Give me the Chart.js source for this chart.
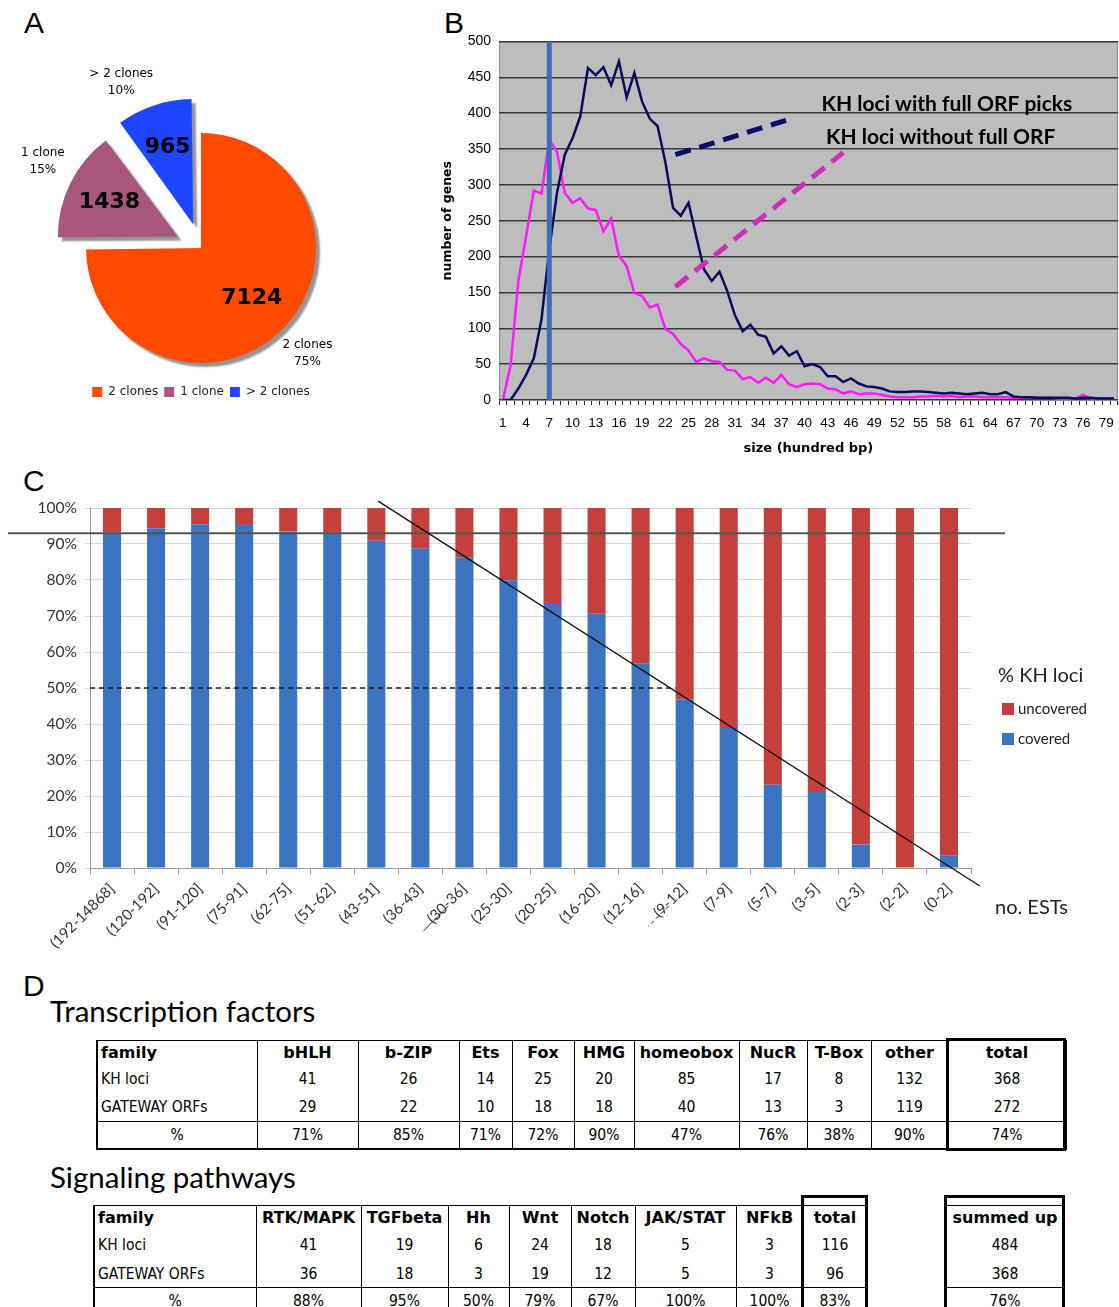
<!DOCTYPE html>
<html>
<head>
<meta charset="utf-8">
<script src="https://cdn.jsdelivr.net/npm/chart.js@4.4.1/dist/chart.umd.min.js"></script>
<style>
  body { margin: 0; background: #fff; }
  #page { position: relative; width: 1119px; height: 1307px; overflow: hidden; background: #fff; }
  canvas { position: absolute; }
  .letter { position: absolute; font-family: 'Liberation Sans', Arial, sans-serif; font-size: 30px; line-height: 1; color: #000; }
  .title { position: absolute; font-family: Lato, sans-serif; font-size: 29.5px; line-height: 1; color: #000; }
  table.d { position: absolute; border-collapse: collapse; table-layout: fixed;
    font-family: 'DejaVu Sans Condensed', 'DejaVu Sans', sans-serif; font-size: 15.5px; color: #000; }
  table.d td { padding: 0 3px; border-left: 1px solid #000; border-right: 1px solid #000;
    text-align: center; white-space: nowrap; overflow: hidden; }
  table.d tr.hd td { font-family: 'DejaVu Sans', sans-serif; font-size: 16px; font-weight: bold; border-top: 1px solid #000; }
  table.d tr.gw td { border-bottom: 1px solid #000; }
  table.d tr.pc td { border-bottom: 2px solid #000; }
  table.d td.first { text-align: left; border-left: 2px solid #000; }
  table.d tr.pc td.first { text-align: center; }
  .box { position: absolute; border: 3px solid #000; box-sizing: border-box; }
</style>
</head>
<body>
<div id="page">
  <div class="letter" style="left:24px;top:8px">A</div>
  <div class="letter" style="left:444px;top:8px">B</div>
  <div class="letter" style="left:23px;top:466px">C</div>
  <div class="letter" style="left:23px;top:971px">D</div>

  <canvas id="pieChart" width="402" height="410" style="left:0;top:0"></canvas>
  <canvas id="sizeChart" width="684" height="435" style="left:440px;top:25px"></canvas>
  <canvas id="estChart" width="1119" height="480" style="left:0;top:490px"></canvas>

  <div class="title" style="left:50px;top:996px">Transcription factors</div>
  <table class="d" id="tfTable" style="left:96px;top:1040px"></table>
  <div class="box" style="left:946px;top:1038px;width:120px;height:113px"></div>

  <div class="title" style="left:50px;top:1162px">Signaling pathways</div>
  <table class="d" id="spTable" style="left:93px;top:1205px"></table>
  <div class="box" style="left:801px;top:1195px;width:67px;height:140px"></div>
  <table class="d" id="sumTable" style="left:946px;top:1205px"></table>
  <div class="box" style="left:944px;top:1195px;width:121px;height:140px"></div>
</div>

<script>
// ---------- A: clones per locus
const cloneLabels = ['2 clones', '1 clone', '> 2 clones'];
const cloneCounts = [7124, 1438, 965];
const cloneColors = ['#FF4A00', '#A8567E', '#1F46FF'];

// ---------- B: size distribution (hundred bp)
const sizeBins = ['1','2','3','4','5','6','7','8','9','10','11','12','13','14','15','16','17','18','19','20',
  '21','22','23','24','25','26','27','28','29','30','31','32','33','34','35','36','37','38','39','40',
  '41','42','43','44','45','46','47','48','49','50','51','52','53','54','55','56','57','58','59','60',
  '61','62','63','64','65','66','67','68','69','70','71','72','73','74','75','76','77','78','79','80'];
const withOrf = [0, 0, 16, 35, 58, 113, 210, 289, 342, 365, 395, 463, 453, 464, 439, 472, 422, 456, 416, 392,
  382, 332, 268, 257, 275, 228, 182, 166, 179, 152, 118, 96, 105, 91, 88, 65, 75, 62, 68, 47,
  50, 46, 33, 33, 25, 30, 23, 19, 18, 16, 12, 11, 11, 12, 12, 11, 10, 9, 10, 9,
  8, 9, 10, 8, 8, 11, 5, 4, 4, 3, 3, 3, 3, 3, 2, 3, 3, 2, 2, 2];
const withoutOrf = [0, 48, 166, 228, 292, 288, 363, 346, 289, 275, 281, 267, 265, 235, 253, 201, 187, 149, 145, 129,
  133, 99, 92, 78, 69, 53, 58, 54, 53, 42, 41, 29, 32, 24, 31, 24, 35, 22, 18, 22,
  23, 22, 16, 15, 9, 12, 8, 9, 9, 7, 5, 4, 4, 4, 5, 5, 6, 5, 6, 4,
  5, 5, 4, 4, 4, 4, 3, 3, 3, 3, 3, 3, 2, 2, 2, 7, 2, 2, 2, 2];
const markerBin = 6; // index of the "7" bin

// ---------- C: coverage per EST class
const estBins = ['(192-14868]', '(120-192]', '(91-120]', '(75-91]', '(62-75]', '(51-62]', '(43-51]', '(36-43]',
  '(30-36]', '(25-30]', '(20-25]', '(16-20]', '(12-16]', '(9-12]', '(7-9]', '(5-7]', '(3-5]', '(2-3]', '(2-2]', '(0-2]'];
const coveredPct = [93.2, 94.4, 95.5, 95.3, 93.5, 93.2, 90.9, 88.8, 86.3, 79.9,
  73.6, 70.6, 56.9, 46.8, 38.9, 23.1, 21.1, 6.5, 0, 3.5];
const uncoveredPct = [6.8, 5.6, 4.5, 4.7, 6.5, 6.8, 9.1, 11.2, 13.7, 20.1,
  26.4, 29.4, 43.1, 53.2, 61.1, 76.9, 78.9, 93.5, 100, 96.5];

// ---------- D: tables
const tfFamilies = ['bHLH', 'b-ZIP', 'Ets', 'Fox', 'HMG', 'homeobox', 'NucR', 'T-Box', 'other'];
const tfKhLoci = [41, 26, 14, 25, 20, 85, 17, 8, 132];
const tfGateway = [29, 22, 10, 18, 18, 40, 13, 3, 119];
const tfPercent = ['71%', '85%', '71%', '72%', '90%', '47%', '76%', '38%', '90%'];
const tfTotal = [368, 272, '74%'];
const spFamilies = ['RTK/MAPK', 'TGFbeta', 'Hh', 'Wnt', 'Notch', 'JAK/STAT', 'NFkB'];
const spKhLoci = [41, 19, 6, 24, 18, 5, 3];
const spGateway = [36, 18, 3, 19, 12, 5, 3];
const spPercent = ['88%', '95%', '50%', '79%', '67%', '100%', '100%'];
const spTotal = [116, 96, '83%'];
const summedUp = [484, 368, '76%'];

Chart.defaults.animation = false;
Chart.defaults.responsive = false;
Chart.defaults.devicePixelRatio = 1;

// ===== A
// angle nudge (radians) for the outside labels, so they sit where the original put them
const cloneLabelNudge = [0, 0.05, -0.16];

const piePlugin = {
  id: 'pieDeco',
  beforeDatasetsDraw(chart) {
    const ctx = chart.ctx;
    ctx.save();
    ctx.shadowColor = 'rgba(60,60,60,0.55)';
    ctx.shadowOffsetX = 4;
    ctx.shadowOffsetY = 4;
    ctx.shadowBlur = 2;
  },
  afterDatasetsDraw(chart) {
    const ctx = chart.ctx;
    ctx.restore();
    const total = cloneCounts.reduce((a, b) => a + b, 0);
    chart.getDatasetMeta(0).data.forEach((arc, i) => {
      const p = arc.getProps(['x', 'y', 'startAngle', 'endAngle', 'outerRadius']);
      const mid = (p.startAngle + p.endAngle) / 2;
      const circ = p.endAngle - p.startAngle;
      const off = (arc.options.offset || 0) / 4;
      const shift = off * (2 - Math.sin(Math.min(Math.PI, circ)));
      const sx = p.x + Math.cos(mid) * shift, sy = p.y + Math.sin(mid) * shift;
      const at = (d, ang) => [sx + Math.cos(ang) * d, sy + Math.sin(ang) * d];
      ctx.save();
      ctx.fillStyle = '#000';
      ctx.textAlign = 'center';
      ctx.textBaseline = 'middle';
      ctx.font = 'bold 22px "DejaVu Sans"';
      const [nx, ny] = at(p.outerRadius * 0.62, mid);
      ctx.fillText(String(cloneCounts[i]), nx, ny);
      ctx.font = '12px "DejaVu Sans"';
      const [ox, oy] = at(p.outerRadius * 1.3, mid + cloneLabelNudge[i]);
      ctx.fillText(cloneLabels[i], ox, oy - 8);
      ctx.fillText(Math.round(cloneCounts[i] / total * 100) + '%', ox, oy + 9);
      ctx.restore();
    });
  }
};

new Chart(document.getElementById('pieChart'), {
  type: 'pie',
  data: {
    labels: cloneLabels,
    datasets: [{
      data: cloneCounts,
      backgroundColor: cloneColors,
      borderWidth: 0,
      offset: [0, 104, 100],
      clip: false
    }]
  },
  options: {
    radius: 115,
    layout: { padding: { top: 116, bottom: 2 } },
    plugins: {
      legend: {
        position: 'bottom',
        labels: { font: { family: 'DejaVu Sans', size: 12 }, color: '#222', boxWidth: 10, boxHeight: 10, padding: 6 }
      },
      tooltip: { enabled: false }
    }
  },
  plugins: [piePlugin]
});

// ===== B
const sizeNotes = {
  withText: { x: 57.4, y: 413, text: 'KH loci with full ORF picks' },
  withoutText: { x: 56.6, y: 367, text: 'KH loci without full ORF' },
  withArrow: [[22.3, 342], [36.6, 390]],
  withoutArrow: [[22.3, 158], [44.0, 345]]
};

const sizePlugin = {
  id: 'sizeDeco',
  beforeDraw(chart) {
    const a = chart.chartArea, ctx = chart.ctx;
    ctx.save();
    ctx.fillStyle = '#BDBDBD';
    ctx.fillRect(a.left, a.top, a.right - a.left, a.bottom - a.top);
    ctx.strokeStyle = '#8a8a8a';
    ctx.lineWidth = 1;
    ctx.strokeRect(a.left + 0.5, a.top + 0.5, a.right - a.left - 1, a.bottom - a.top - 1);
    ctx.restore();
  },
  afterDatasetsDraw(chart) {
    const a = chart.chartArea, ctx = chart.ctx;
    const xs = chart.scales.x, ys = chart.scales.y;
    ctx.save();
    const mx = xs.getPixelForValue(markerBin);
    ctx.strokeStyle = '#3C6EB4';
    ctx.lineWidth = 5;
    ctx.beginPath();
    ctx.moveTo(mx, a.top);
    ctx.lineTo(mx, a.bottom);
    ctx.stroke();

    const dash = (pts, color) => {
      ctx.strokeStyle = color;
      ctx.lineWidth = 5;
      ctx.setLineDash([16, 9]);
      ctx.beginPath();
      ctx.moveTo(xs.getPixelForValue(pts[0][0]), ys.getPixelForValue(pts[0][1]));
      ctx.lineTo(xs.getPixelForValue(pts[1][0]), ys.getPixelForValue(pts[1][1]));
      ctx.stroke();
    };
    dash(sizeNotes.withArrow, '#0B0B6A');
    dash(sizeNotes.withoutArrow, '#D030B8');
    ctx.setLineDash([]);

    ctx.fillStyle = '#000';
    ctx.font = 'bold 21px Lato';
    ctx.textAlign = 'center';
    ctx.textBaseline = 'middle';
    [sizeNotes.withText, sizeNotes.withoutText].forEach(n => {
      ctx.fillText(n.text, xs.getPixelForValue(n.x), ys.getPixelForValue(n.y));
    });
    ctx.restore();
  }
};

new Chart(document.getElementById('sizeChart'), {
  type: 'line',
  data: {
    labels: sizeBins,
    datasets: [
      { label: 'KH loci with full ORF picks', data: withOrf, borderColor: '#0B0B5E', borderWidth: 2.5, pointRadius: 0, tension: 0 },
      { label: 'KH loci without full ORF', data: withoutOrf, borderColor: '#FF1AFF', borderWidth: 2.5, pointRadius: 0, tension: 0 }
    ]
  },
  options: {
    layout: { padding: { top: 14, right: -3, left: 0, bottom: 0 } },
    plugins: { legend: { display: false }, tooltip: { enabled: false } },
    scales: {
      x: {
        offset: true,
        grid: { offset: true, drawOnChartArea: false, tickLength: 5, color: '#222' },
        border: { color: '#8a8a8a' },
        ticks: {
          autoSkip: false, maxRotation: 0, minRotation: 0, padding: 10, color: '#000',
          font: { family: 'Liberation Sans', size: 13.5 },
          callback: (v, i) => (i % 3 === 0 ? sizeBins[i] : '')
        },
        title: { display: true, text: 'size (hundred bp)', color: '#000', font: { family: 'DejaVu Sans', weight: 'bold', size: 13 }, padding: { top: 4, bottom: 4 } },
        afterFit: (s) => { s.height = 60; }
      },
      y: {
        min: 0, max: 500,
        grid: { color: '#3a3a3a', lineWidth: 1.5, drawTicks: false },
        border: { display: false },
        ticks: { stepSize: 50, padding: 8, color: '#000', font: { family: 'Liberation Sans', size: 14 } },
        title: { display: true, text: 'number of genes', color: '#000', font: { family: 'DejaVu Sans', weight: 'bold', size: 12.5 }, padding: 0 },
        afterFit: (s) => { s.width = 59; }
      }
    }
  },
  plugins: [sizePlugin]
});

// ===== C
const estNotes = {
  refLine: 93,
  halfLine: { y: 50, toBin: 12.8 },
  diagonal: [[6.04, 101.9], [19.7, -5]],
  underlined: 8,
  dashUnderlined: 13
};

const estPlugin = {
  id: 'estDeco',
  afterDatasetsDraw(chart) {
    const a = chart.chartArea, ctx = chart.ctx;
    const xs = chart.scales.x, ys = chart.scales.y;
    ctx.save();
    // 93% reference line
    const y93 = ys.getPixelForValue(estNotes.refLine);
    ctx.strokeStyle = '#555';
    ctx.lineWidth = 2;
    ctx.beginPath();
    ctx.moveTo(8, y93);
    ctx.lineTo(a.right + 34, y93);
    ctx.stroke();
    // 50% dashed line
    const y50 = ys.getPixelForValue(estNotes.halfLine.y);
    ctx.strokeStyle = '#1a1a1a';
    ctx.lineWidth = 1.5;
    ctx.setLineDash([5, 4]);
    ctx.beginPath();
    ctx.moveTo(a.left, y50);
    ctx.lineTo(xs.getPixelForValue(estNotes.halfLine.toBin), y50);
    ctx.stroke();
    ctx.setLineDash([]);
    // diagonal
    const d = estNotes.diagonal;
    ctx.strokeStyle = '#111';
    ctx.lineWidth = 1.3;
    ctx.beginPath();
    ctx.moveTo(xs.getPixelForValue(d[0][0]), ys.getPixelForValue(d[0][1]));
    ctx.lineTo(xs.getPixelForValue(d[1][0]), ys.getPixelForValue(d[1][1]));
    ctx.stroke();
    // underlines under two tick labels
    const under = (idx, dashed) => {
      const tx = xs.getPixelForTick(idx);
      ctx.font = '15px Lato';
      const len = ctx.measureText(estBins[idx]).width * 0.72;
      const sx = tx - 16, sy = xs.top + 38;
      ctx.strokeStyle = '#222';
      ctx.lineWidth = 1;
      ctx.setLineDash(dashed ? [4, 3] : []);
      ctx.beginPath();
      ctx.moveTo(sx, sy);
      ctx.lineTo(sx - len * 0.707, sy + len * 0.707);
      ctx.stroke();
      ctx.setLineDash([]);
    };
    under(estNotes.underlined, false);
    under(estNotes.dashUnderlined, true);
    // legend
    const lx = a.right + 27;
    ctx.fillStyle = '#222';
    ctx.textBaseline = 'middle';
    ctx.textAlign = 'left';
    ctx.font = '20px Lato';
    ctx.fillText('% KH loci', lx, 186);
    const items = [chart.data.datasets[1], chart.data.datasets[0]];
    items.forEach((ds, k) => {
      const iy = 219 + k * 30;
      ctx.fillStyle = ds.backgroundColor;
      ctx.fillRect(lx + 4, iy - 6, 12, 12);
      ctx.fillStyle = '#222';
      ctx.font = '15px Lato';
      ctx.fillText(ds.label, lx + 20, iy);
    });
    ctx.font = '20px Lato';
    ctx.fillText('no. ESTs', a.right + 24, 418);
    ctx.restore();
  }
};

new Chart(document.getElementById('estChart'), {
  type: 'bar',
  data: {
    labels: estBins,
    datasets: [
      { label: 'covered', data: coveredPct, backgroundColor: '#3B73C0', barPercentage: 0.41, categoryPercentage: 1 },
      { label: 'uncovered', data: uncoveredPct, backgroundColor: '#C6403B', barPercentage: 0.41, categoryPercentage: 1 }
    ]
  },
  options: {
    layout: { padding: { top: 18, right: 148, left: 0, bottom: 0 } },
    plugins: { legend: { display: false }, tooltip: { enabled: false } },
    scales: {
      x: {
        stacked: true,
        grid: { offset: true, drawOnChartArea: false, tickLength: 6, color: '#9a9a9a' },
        border: { color: '#9a9a9a' },
        ticks: { autoSkip: false, minRotation: 45, maxRotation: 45, padding: 6, color: '#333', font: { family: 'Lato', size: 15 } },
        afterFit: (s) => { s.height = 102; }
      },
      y: {
        stacked: true, min: 0, max: 100,
        grid: { color: '#d9d9d9', lineWidth: 1, tickLength: 5 },
        border: { color: '#9a9a9a' },
        ticks: { stepSize: 10, padding: 8, color: '#333', font: { family: 'Lato', size: 15.5 }, callback: (v) => v + '%' },
        afterFit: (s) => { s.width = 90; }
      }
    }
  },
  plugins: [estPlugin]
});

// ===== D tables
const rowHeights = {
  tfTable: [23, 30, 28, 27],
  spTable: [23, 32, 27, 27],
  sumTable: [23, 32, 27, 27]
};

function buildTable(id, widths, header, rows, firstCol) {
  const t = document.getElementById(id);
  const cg = document.createElement('colgroup');
  widths.forEach(w => { const c = document.createElement('col'); c.style.width = w + 'px'; cg.appendChild(c); });
  t.appendChild(cg);
  t.style.width = widths.reduce((a, b) => a + b, 0) + 'px';
  const classes = ['hd', 'kh', 'gw', 'pc'];
  [header].concat(rows).forEach((cells, r) => {
    const tr = document.createElement('tr');
    tr.className = classes[r];
    tr.style.height = rowHeights[id][r] + 'px';
    cells.forEach((v, c) => {
      const td = document.createElement('td');
      td.textContent = v;
      if (c === 0 && firstCol) td.className = 'first';
      tr.appendChild(td);
    });
    t.appendChild(tr);
  });
}

buildTable('tfTable', [160, 101, 101, 53, 62, 60, 105, 68, 64, 77, 118],
  ['family'].concat(tfFamilies, ['total']),
  [['KH loci'].concat(tfKhLoci, [tfTotal[0]]),
   ['GATEWAY ORFs'].concat(tfGateway, [tfTotal[1]]),
   ['%'].concat(tfPercent, [tfTotal[2]])], true);
buildTable('spTable', [162, 105, 87, 61, 62, 64, 101, 67, 64],
  ['family'].concat(spFamilies, ['total']),
  [['KH loci'].concat(spKhLoci, [spTotal[0]]),
   ['GATEWAY ORFs'].concat(spGateway, [spTotal[1]]),
   ['%'].concat(spPercent, [spTotal[2]])], true);
buildTable('sumTable', [117], ['summed up'], [[summedUp[0]], [summedUp[1]], [summedUp[2]]], false);
</script>
</body>
</html>
